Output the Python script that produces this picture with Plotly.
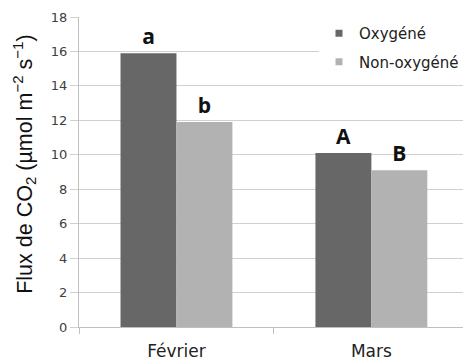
import plotly.graph_objects as go

categories = ["Février", "Mars"]
oxygene = [15.9, 10.1]
non_oxygene = [11.9, 9.1]
letters_oxygene = ["a", "A"]
letters_non_oxygene = ["b", "B"]
series_names = ["Oxygéné", "Non-oxygéné"]
series_colors = ["#676767", "#b2b2b2"]
y_ticks = [0, 2, 4, 6, 8, 10, 12, 14, 16, 18]
y_title = "Flux de CO<sub>2</sub> (µmol m<sup>−2</sup> s<sup>−1</sup>)"

letter_font = dict(family="Open Sans", size=21, color="#111111")

fig = go.Figure()
for name, vals, letters, color in zip(series_names, [oxygene, non_oxygene],
                                      [letters_oxygene, letters_non_oxygene], series_colors):
    fig.add_trace(go.Bar(
        name=name, x=categories, y=vals,
        marker=dict(color=color, line=dict(width=0)),
        text=["<b>%s</b>" % t for t in letters],
        textposition="outside", textfont=letter_font, cliponaxis=False,
        showlegend=False,
    ))

# legend entries with small square symbols
for i, (name, color) in enumerate(zip(series_names, series_colors)):
    fig.add_trace(go.Scatter(
        name=name, x=[None], y=[None], mode="markers",
        marker=dict(symbol="square", size=7, color=color),
        legendgroup="g%d" % i, showlegend=True,
    ))

fig.add_annotation(
    text=y_title, textangle=-90, showarrow=False,
    xref="paper", yref="paper", x=-0.141, y=0.526,
    xanchor="center", yanchor="middle",
    font=dict(family="Liberation Sans", size=21.5, color="#111111"),
)

fig.update_layout(
    width=463, height=360,
    margin=dict(l=79, r=0, t=17, b=33, autoexpand=False),
    paper_bgcolor="white", plot_bgcolor="white",
    barmode="group", bargap=0.426, bargroupgap=0,
    showlegend=True,
    legend=dict(
        x=0.625, y=1.0, xanchor="left", yanchor="top",
        bgcolor="white", borderwidth=0,
        font=dict(family="DejaVu Sans", size=15, color="#222222"),
        tracegroupgap=6, traceorder="grouped",
        itemwidth=30,
    ),
    xaxis=dict(
        range=[-0.5, 1.47], automargin=False,
        tickson="boundaries", ticks="outside", ticklen=6, tickcolor="#bfbfbf",
        ticklabelstandoff=9,
        showline=True, linecolor="#bfbfbf", linewidth=1,
        showgrid=False,
        tickfont=dict(family="DejaVu Sans", size=17, color="#222222"),
    ),
    yaxis=dict(
        range=[0, 18], tickvals=y_ticks, automargin=False,
        ticks="outside", ticklen=8, tickcolor="#d0d0d0",
        showline=True, linecolor="#bfbfbf", linewidth=1,
        showgrid=True, gridcolor="#d0d0d0", gridwidth=1,
        zeroline=False,
        tickfont=dict(family="DejaVu Sans", size=13, color="#404040"),
    ),
)

fig.write_html(
    "out.html",
    config={"displayModeBar": False},
    post_script="document.body.style.margin='0';document.body.style.overflow='hidden';",
)
